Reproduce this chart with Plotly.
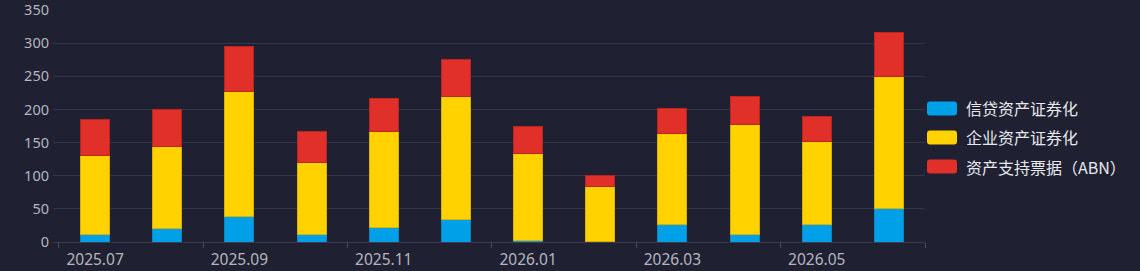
import plotly.graph_objects as go

months = ["2025.07", "2025.08", "2025.09", "2025.10", "2025.11", "2025.12",
          "2026.01", "2026.02", "2026.03", "2026.04", "2026.05", "2026.06"]
credit_abs = [11, 21, 38, 11, 22, 34, 2, 1.5, 27, 11, 27, 50]
corp_abs = [120, 123, 189, 109, 145, 186, 131, 81.5, 137, 166, 125, 200]
abn = [54, 56, 68, 47, 50, 55, 41, 17, 37, 42, 38, 66]
series_names = ["信贷资产证券化", "企业资产证券化", "资产支持票据（ABN）"]
y_ticks = [0, 50, 100, 150, 200, 250, 300, 350]

colors = ["#00a0e9", "#ffd200", "#e1302a"]
edges = ["#0a86c0", "#d9b000", "#b8261f"]
font_family = "Noto Sans CJK SC, Noto Sans, sans-serif"
tick_family = "Noto Sans, Open Sans, sans-serif"

W, H = 1140, 271
ML, MR, MT, MB = 53, 215, 9, 29
PW, PH = W - ML - MR, H - MT - MB

x = list(range(len(months)))
fig = go.Figure()
for name, vals, c, e in zip(series_names, [credit_abs, corp_abs, abn], colors, edges):
    fig.add_trace(go.Bar(x=x, y=vals, name=name, width=0.4, showlegend=False,
                         marker=dict(color=c, line=dict(color=e, width=1))))

# custom legend (rounded swatches + text), placed in paper coordinates
shapes, annotations = [], []
sw_x0, sw_w, sw_h, rad = 927, 30, 14, 3
for i, (name, c) in enumerate(zip(series_names, colors)):
    cy = 108.5 + i * 29
    x0 = (sw_x0 - ML) / PW
    x1 = (sw_x0 + sw_w - ML) / PW
    y0 = (H - MB - (cy + sw_h / 2)) / PH
    y1 = (H - MB - (cy - sw_h / 2)) / PH
    rx, ry = rad / PW, rad / PH
    path = (f"M {x0+rx},{y0} L {x1-rx},{y0} Q {x1},{y0} {x1},{y0+ry} "
            f"L {x1},{y1-ry} Q {x1},{y1} {x1-rx},{y1} L {x0+rx},{y1} "
            f"Q {x0},{y1} {x0},{y1-ry} L {x0},{y0+ry} Q {x0},{y0} {x0+rx},{y0} Z")
    shapes.append(dict(type="path", xref="paper", yref="paper", path=path,
                       fillcolor=c, line=dict(width=0)))
    annotations.append(dict(xref="paper", yref="paper",
                            x=(964 - ML) / PW, y=(H - MB - cy) / PH,
                            xanchor="left", yanchor="middle", showarrow=False,
                            text=name, font=dict(size=16, color="#e8e8ee")))

label_idx = x[::2]
boundaries = [i - 0.5 for i in x[::2]] + [x[-1] + 0.5]

fig.update_layout(
    barmode="stack",
    width=W, height=H,
    paper_bgcolor="#1f2132", plot_bgcolor="#1f2132",
    margin=dict(l=ML, r=MR, t=MT, b=MB, autoexpand=False),
    font=dict(family=font_family, color="#b4b6bf", size=15),
    showlegend=False,
    shapes=shapes, annotations=annotations,
    xaxis=dict(range=[-0.583, 11.5], tickmode="array", tickvals=label_idx,
               ticktext=[months[i] for i in label_idx], ticks="",
               showgrid=False, zeroline=False, showline=True, automargin=False,
               linecolor="#3a3d50", linewidth=1, ticklabelstandoff=3,
               ticklabeloverflow="allow",
               tickfont=dict(size=15.5, color="#b4b6bf", family=tick_family)),
    yaxis=dict(range=[0, 351.5], tickmode="array", tickvals=y_ticks,
               showgrid=True, gridcolor="#33364a", gridwidth=1, automargin=False,
               zeroline=False, ticks="", ticklabelstandoff=3,
               ticklabeloverflow="allow",
               tickfont=dict(size=14.5, color="#b4b6bf", family=tick_family)),
)
fig.update_xaxes(minor=dict(tickmode="array", tickvals=boundaries, ticks="outside",
                            ticklen=5, tickcolor="#4a4d60", showgrid=False))

fig.write_html("out.html")
